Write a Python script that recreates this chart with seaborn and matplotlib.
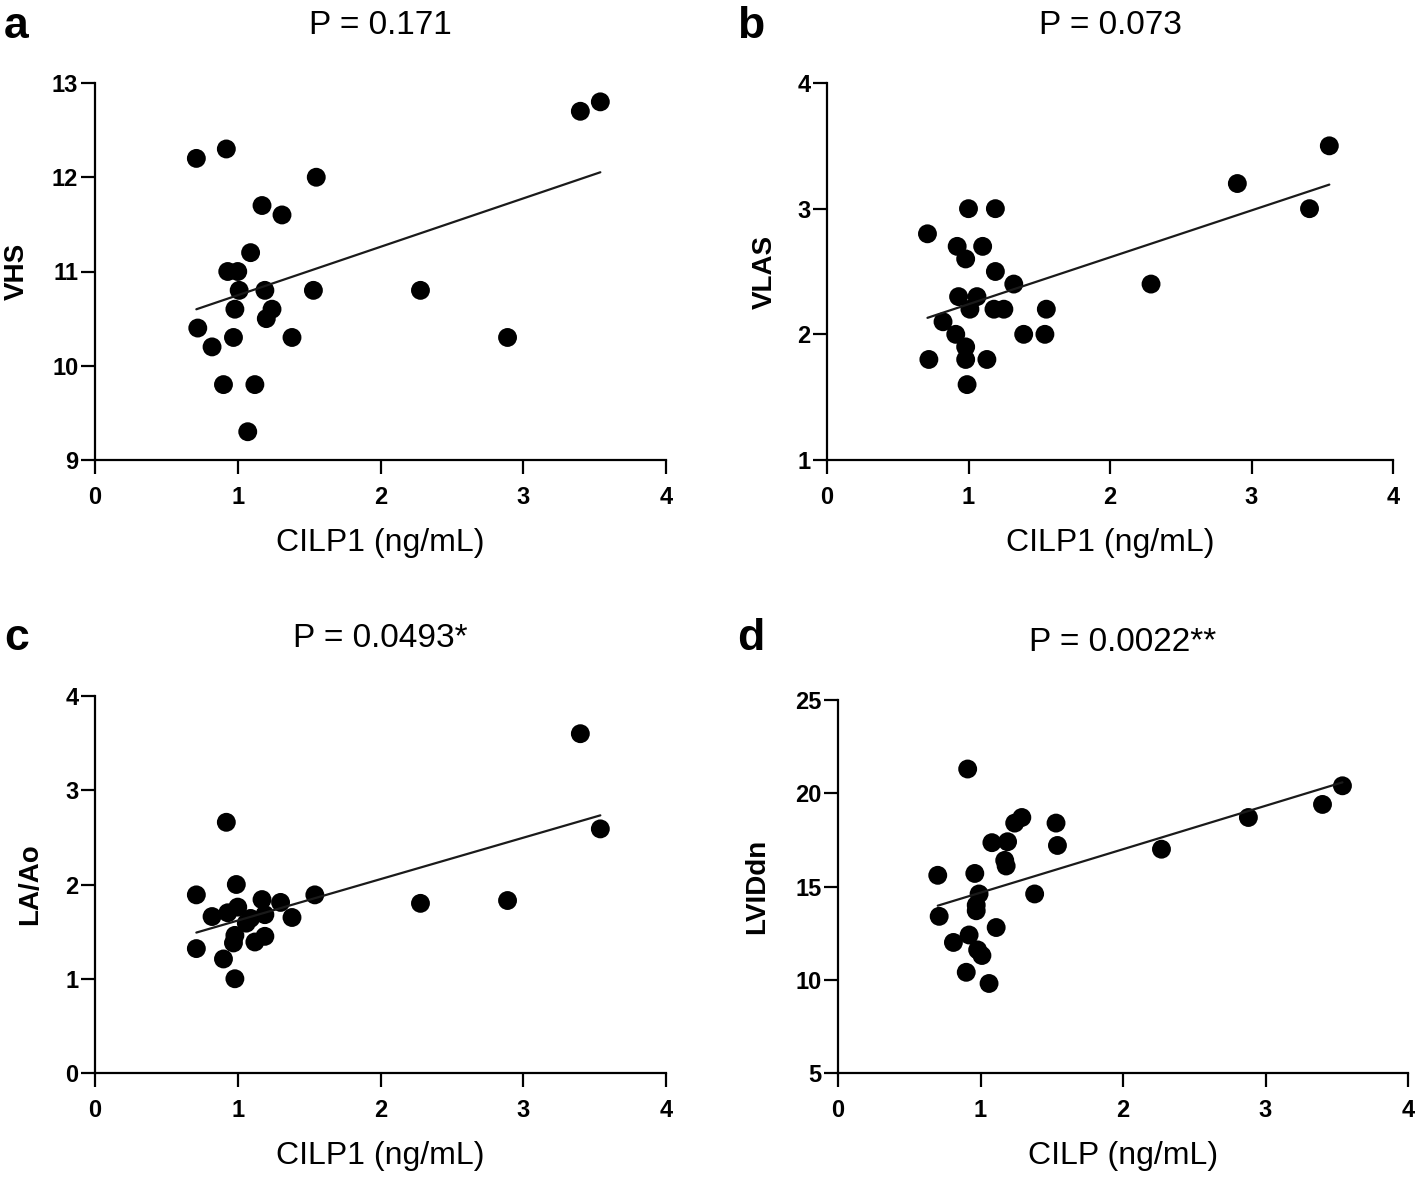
import matplotlib
matplotlib.use("Agg")
import matplotlib.pyplot as plt
import seaborn as sns
import numpy as np

# ---- data ----
xa = [0.71, 0.92, 1.55, 1.17, 1.31, 1.09, 0.93, 1.00, 1.01, 1.19, 1.53, 0.98, 1.24,
      1.20, 0.72, 0.97, 1.38, 0.82, 0.90, 1.12, 1.07, 2.28, 2.89, 3.40, 3.54]
ya = [12.2, 12.3, 12.0, 11.7, 11.6, 11.2, 11.0, 11.0, 10.8, 10.8, 10.8, 10.6, 10.6,
      10.5, 10.4, 10.3, 10.3, 10.2, 9.8, 9.8, 9.3, 10.8, 10.3, 12.7, 12.8]

xb = [1.00, 1.19, 0.71, 0.92, 1.10, 0.98, 1.19, 1.32, 0.93, 1.06, 1.01, 1.18, 1.25, 1.55,
      0.82, 0.91, 1.39, 1.54, 0.98, 0.72, 0.98, 1.13, 0.99, 2.29, 2.90, 3.41, 3.55]
yb = [3.0, 3.0, 2.8, 2.7, 2.7, 2.6, 2.5, 2.4, 2.3, 2.3, 2.2, 2.2, 2.2, 2.2,
      2.1, 2.0, 2.0, 2.0, 1.9, 1.8, 1.8, 1.8, 1.6, 2.4, 3.2, 3.0, 3.5]

xc = [0.92, 0.99, 0.71, 1.54, 1.17, 1.30, 1.00, 0.93, 0.82, 1.38, 1.09, 1.19,
      1.06, 0.98, 1.19, 1.12, 0.71, 0.97, 0.90, 0.98, 2.28, 2.89, 3.40, 3.54]
yc = [2.66, 2.00, 1.89, 1.89, 1.84, 1.81, 1.76, 1.70, 1.66, 1.65, 1.64, 1.68,
      1.59, 1.46, 1.45, 1.39, 1.32, 1.38, 1.21, 1.00, 1.80, 1.83, 3.60, 2.59]

xd = [0.91, 1.29, 1.24, 1.53, 1.08, 1.19, 1.54, 1.17, 1.18, 0.70, 0.96, 0.99, 1.38, 0.97,
      0.97, 0.71, 1.11, 0.92, 0.81, 0.98, 1.01, 0.90, 1.06, 2.27, 2.88, 3.40, 3.54]
yd = [21.3, 18.7, 18.4, 18.4, 17.35, 17.4, 17.2, 16.4, 16.1, 15.6, 15.7, 14.6, 14.6, 14.0,
      13.7, 13.4, 12.8, 12.4, 12.0, 11.6, 11.3, 10.4, 9.8, 17.0, 18.7, 19.4, 20.4]

panel_letters = ["a", "b", "c", "d"]
titles = ["P = 0.171", "P = 0.073", "P = 0.0493*", "P = 0.0022**"]
xlabels = ["CILP1 (ng/mL)", "CILP1 (ng/mL)", "CILP1 (ng/mL)", "CILP (ng/mL)"]
ylabels = ["VHS", "VLAS", "LA/Ao", "LVIDdn"]
yticks_list = [[9, 10, 11, 12, 13], [1, 2, 3, 4], [0, 1, 2, 3, 4], [5, 10, 15, 20, 25]]
xticks = [0, 1, 2, 3, 4]

sns.set_theme(style="ticks")
plt.rcParams["font.family"] = ["Liberation Sans", "DejaVu Sans"]
plt.rcParams["text.color"] = "black"
plt.rcParams["axes.labelcolor"] = "black"
plt.rcParams["xtick.color"] = "black"
plt.rcParams["ytick.color"] = "black"

W, H = 1416, 1178
fig = plt.figure(figsize=(W / 100, H / 100), dpi=100)

# axes boxes in pixels: left, top, right, bottom
boxes = [(95, 83, 666, 460), (827, 83, 1393, 460),
         (95, 696, 666, 1073), (838, 700, 1408, 1073)]
ylab_x = [17, 765, 30, 757]
letter_pos = [(4, 38), (737, 38), (4, 650), (737, 650)]

datasets = [(xa, ya), (xb, yb), (xc, yc), (xd, yd)]

for i, (l, t, r, b) in enumerate(boxes):
    ax = fig.add_axes([l / W, 1 - b / H, (r - l) / W, (b - t) / H])
    x, y = datasets[i]
    sns.regplot(x=x, y=y, ax=ax, ci=None, truncate=True,
                scatter_kws=dict(s=185, color="black", edgecolor="none", alpha=1),
                line_kws=dict(color="#1a1a1a", lw=1.6))
    yt = yticks_list[i]
    ax.set_xlim(0, 4)
    ax.set_ylim(yt[0], yt[-1])
    ax.set_xticks(xticks)
    ax.set_yticks(yt)
    ax.set_xticklabels([str(v) for v in xticks], fontsize=17, fontweight="bold")
    ax.set_yticklabels([str(v) for v in yt], fontsize=17, fontweight="bold")
    ax.tick_params(axis="x", length=10, width=1.6, pad=9, color="black", labelcolor="black")
    ax.tick_params(axis="y", length=10, width=1.6, pad=2, color="black", labelcolor="black")
    for s in ["top", "right"]:
        ax.spines[s].set_visible(False)
    for s in ["left", "bottom"]:
        ax.spines[s].set_linewidth(1.6)
        ax.spines[s].set_color("black")
    ax.set_xlabel(xlabels[i], fontsize=23, color="black")
    ax.xaxis.set_label_coords(0.5, -83 / (b - t))
    ax.xaxis.label.set_va("center")
    ax.set_ylabel(ylabels[i], fontsize=20, fontweight="bold", color="black")
    ax.yaxis.set_label_coords((ylab_x[i] - l) / (r - l), 0.5)
    ax.yaxis.label.set_va("center")
    ax.set_title(titles[i], fontsize=24, pad=35, color="black")
    lx, ly = letter_pos[i]
    fig.text(lx / W, 1 - ly / H, panel_letters[i], fontsize=32, fontweight="bold",
             ha="left", va="baseline", color="black")

fig.savefig("out.png", dpi=100, facecolor="white")
